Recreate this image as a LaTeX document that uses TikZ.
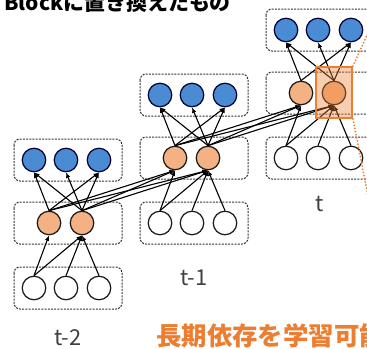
\documentclass[tikz,border=0pt]{standalone}
\usepackage{fontspec}
\newfontfamily\cjk{Noto Sans CJK JP}
\usetikzlibrary{arrows.meta}
\definecolor{unitblue}{HTML}{4A8BD3}
\definecolor{unitorange}{HTML}{F4B183}
\definecolor{accent}{HTML}{ED7D31}
\definecolor{labelgray}{HTML}{404040}

% One time step: prefix, centre x, y of the input row, label text, label y
\newcommand{\drawstep}[5]{%
  \draw[layerbox] ({#2-52},{#3-149}) rectangle ({#2+56},{#3-107});
  \draw[layerbox] ({#2-52},{#3-86}) rectangle ({#2+56},{#3-44});
  \draw[layerbox] ({#2-52},{#3-21}) rectangle ({#2+56},{#3+21});
  \node[outunit] (#1o1) at ({#2-32},{#3-128}) {};
  \node[outunit] (#1o2) at ({#2},{#3-128}) {};
  \node[outunit] (#1o3) at ({#2+33},{#3-128}) {};
  \node[hidunit] (#1h1) at ({#2-17},{#3-65}) {};
  \node[hidunit] (#1h2) at ({#2+16},{#3-65}) {};
  \node[inunit] (#1i1) at ({#2-32},{#3}) {};
  \node[inunit] (#1i2) at ({#2},{#3}) {};
  \node[inunit] (#1i3) at ({#2+33},{#3}) {};
  \draw[conn] (#1i1.north) -- (#1h1.south);
  \draw[conn] (#1i1.north) -- (#1h2.south);
  \draw[conn] (#1i2.north) -- (#1h2.south);
  \draw[conn] (#1i3.north) -- (#1h2.south);
  \draw[conn] (#1h1.north) -- (#1o1.south);
  \draw[conn] (#1h1.north) -- (#1o3.south);
  \draw[conn] (#1h2.north) -- (#1o1.south);
  \draw[conn] (#1h2.north) -- (#1o2.south);
  \draw[conn] (#1h2.north) -- (#1o3.south);
  \node[steplabel] (#1lab) at ({#2+2},{#5}) {#4};
}

% Recurrent links between the hidden units of two steps
\newcommand{\recur}[2]{%
  \draw[conn] (#1h1.north) -- (#2h1.south);
  \draw[conn] (#1h2.north) -- (#2h1.south);
  \draw[conn] (#1h1.north) -- (#2h2.south);
  \draw[conn] (#1h2.north) -- (#2h2.south);
}

\begin{document}
\begin{tikzpicture}[x=1bp,y=-1bp,
  unit/.style={circle,draw=black!90,line width=1.25bp,minimum size=23.5bp,inner sep=0pt},
  outunit/.style={unit,fill=unitblue,draw=black!80!blue},
  hidunit/.style={unit,fill=unitorange},
  inunit/.style={unit,fill=white},
  layerbox/.style={draw=black!80,dash pattern=on 2bp off 1.2bp,line width=1bp,rounded corners=6bp},
  conn/.style={-{Latex[length=5.5bp,width=4.5bp]},line width=1.1bp,black},
  steplabel/.style={font=\cjk\fontsize{22}{22}\selectfont,text=labelgray,inner sep=0pt},
  zoomline/.style={draw=accent,line width=2bp,line cap=round,dash pattern=on 0bp off 3.2bp}
]
\useasboundingbox (0,0) rectangle (367,349);

\drawstep{a}{66}{288}{t-2}{338}
\drawstep{b}{192}{223}{t-1}{278}
\drawstep{c}{318}{158}{t}{204}

\recur{a}{b}
\recur{b}{c}

% highlighted hidden unit
\node[draw=accent,line width=2bp,fill=accent,fill opacity=0.38,draw opacity=1,
      minimum width=36bp,minimum height=51bp,inner sep=0pt] (hl) at (334,92.5) {};
\coordinate (zt) at (373,22);
\coordinate (zb) at (373,222);
\draw[zoomline] (hl.north east) -- (zt);
\draw[zoomline] (hl.south east) -- (zb);

% captions
\node[anchor=base west,inner sep=0pt,font=\cjk\bfseries\fontsize{21}{21}\selectfont] (title) at (4,10.5) {Blockに置き換えたもの};
\node[anchor=base west,inner sep=0pt,text=accent,font=\cjk\bfseries\fontsize{25.5}{25.5}\selectfont] (note) at (156,345) {長期依存を学習可能};
\end{tikzpicture}
\end{document}
